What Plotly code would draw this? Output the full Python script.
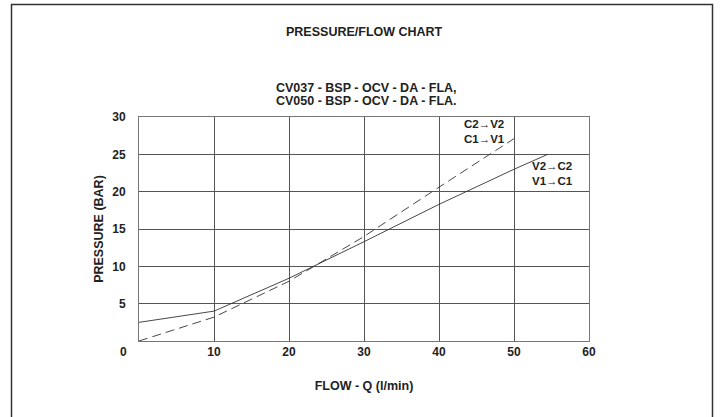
import plotly.graph_objects as go

# Data
flow_v_to_c = [0, 10, 20, 23.5, 30, 40, 50, 54.5]
pressure_v_to_c = [2.5, 4.0, 8.4, 10.1, 13.3, 18.3, 23.0, 25.0]

flow_c_to_v = [0, 10, 20, 23.5, 30, 40, 50]
pressure_c_to_v = [0, 3.2, 8.0, 10.1, 14.0, 20.6, 27.1]

x_ticks = [10, 20, 30, 40, 50, 60]
y_ticks = [5, 10, 15, 20, 25, 30]

FONT = "Liberation Sans, Arial, sans-serif"
TXT = "#222222"
GRID = "#555555"

fig = go.Figure()
fig.add_trace(go.Scatter(x=flow_v_to_c, y=pressure_v_to_c, mode="lines",
                         line=dict(color="#333333", width=0.9), name="V→C",
                         showlegend=False))
fig.add_trace(go.Scatter(x=flow_c_to_v, y=pressure_c_to_v, mode="lines",
                         line=dict(color="#333333", width=0.9, dash="9px,5px"),
                         name="C→V", showlegend=False))

L, R, T, B = 139, 132, 117, 76
W, H = 721, 417
pw, ph = W - L - R, H - T - B

def px(x):
    return (x - L) / pw

def py(y):
    return (H - B - y) / ph

fig.update_layout(
    width=W, height=H,
    margin=dict(l=L, r=R, t=T, b=B),
    paper_bgcolor="white", plot_bgcolor="white",
    font=dict(family=FONT, color=TXT, size=12),
    xaxis=dict(range=[0, 60], tickvals=x_ticks, showgrid=True, gridcolor=GRID,
               gridwidth=0.8, zeroline=False, showline=True, linecolor="#777777",
               linewidth=1, mirror=True, ticks="", fixedrange=True,
               tickfont=dict(family=FONT, size=12, color=TXT, weight="bold"),
               title=dict(text="<b>FLOW - Q (l/min)</b>", standoff=22,
                          font=dict(family=FONT, size=12.5, color=TXT))),
    yaxis=dict(range=[0, 30], tickvals=y_ticks, showgrid=True, gridcolor=GRID,
               gridwidth=0.8, zeroline=False, showline=True, linecolor="#777777",
               linewidth=1, mirror=True, ticks="", fixedrange=True,
               ticklabelstandoff=10,
               tickfont=dict(family=FONT, size=12, color=TXT, weight="bold"),
               title=dict(text="<b>PRESSURE (BAR)</b>", standoff=5,
                          font=dict(family=FONT, size=12.5, color=TXT))),
)

annots = [
    dict(text="<b>PRESSURE/FLOW CHART</b>", x=px(364), y=py(32), size=12.5),
    dict(text="<b>CV037 - BSP - OCV - DA - FLA,</b>", x=px(366), y=py(88), size=12.5),
    dict(text="<b>CV050 - BSP - OCV - DA - FLA.</b>", x=px(366), y=py(101), size=12.5),
    dict(text="<b>0</b>", x=px(123), y=py(352), size=12),
]
for a in annots:
    fig.add_annotation(text=a["text"], x=a["x"], y=a["y"], xref="paper", yref="paper",
                       showarrow=False, xanchor="center", yanchor="middle",
                       font=dict(family=FONT, size=a["size"], color=TXT))

labels = [
    ("<b>C2→V2<br>C1→V1</b>", 46.1, 28.1),
    ("<b>V2→C2<br>V1→C1</b>", 55.1, 22.4),
]
for t, x, y in labels:
    fig.add_annotation(text=t, x=x, y=y, xref="x", yref="y", showarrow=False,
                       xanchor="center", yanchor="middle",
                       font=dict(family=FONT, size=11.5, color=TXT))

# outer frame (open at the bottom, as in the reference)
x0, x1 = px(11.5), px(712.5)
y_top, y_bot = py(4.5), py(430)
fig.add_shape(type="path", xref="paper", yref="paper",
              path=f"M {x0},{y_bot} L {x0},{y_top} L {x1},{y_top} L {x1},{y_bot}",
              line=dict(color="#333333", width=1.5))

fig.write_html("out.html", config={"displayModeBar": False},
               post_script="document.body.style.margin='0';document.body.style.overflow='hidden';")
